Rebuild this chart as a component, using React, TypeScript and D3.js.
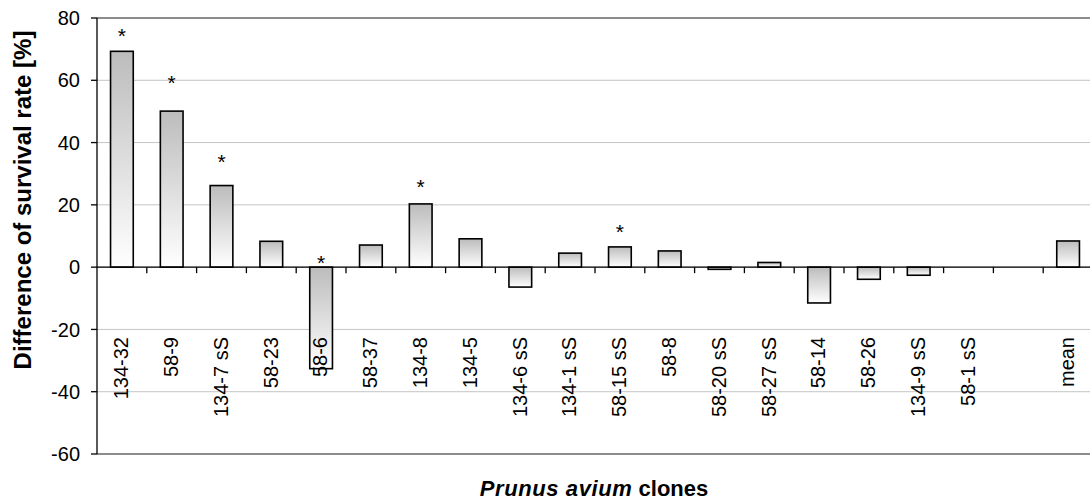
import React from "react";
import * as d3 from "d3";

const categories = [
  "134-32", "58-9", "134-7 sS", "58-23", "58-6", "58-37", "134-8", "134-5",
  "134-6 sS", "134-1 sS", "58-15 sS", "58-8", "58-20 sS", "58-27 sS", "58-14",
  "58-26", "134-9 sS", "58-1 sS", "", "mean",
];
const values = [
  69.3, 50.1, 26.2, 8.3, -32.6, 7.1, 20.3, 9.1,
  -6.4, 4.5, 6.5, 5.2, -0.7, 1.5, -11.5,
  -3.9, -2.6, 0, null, 8.4,
];
// asterisk (significance) marks, drawn at these y-values
const starValues = [
  77, 62, 36.5, null, 4, null, 28.5, null,
  null, null, 14, null, null, null, null,
  null, null, null, null, null,
];
const yTicks = [-60, -40, -20, 0, 20, 40, 60, 80];

const W = 1090;
const H = 502;
const left = 97;
const right = 1093;
const top = 18;
const bottom = 454;
const font = "'Liberation Sans', Arial, sans-serif";

const App = () => {
  const keys = categories.map((c, i) => c || "blank" + i);
  const x = d3.scaleBand().domain(keys).range([left, right]).padding(0);
  const y = d3.scaleLinear().domain([-60, 80]).range([bottom, top]);
  const bw = x.bandwidth() * 0.456;
  const y0 = y(0);

  return (
    <svg width={W} height={H} style={{ position: "absolute", left: 0, top: 0, background: "#fff" }}>
      <defs>
        <linearGradient id="barGrad" x1="0" y1="0" x2="0" y2="1">
          <stop offset="0%" stopColor="#bcbcbc" />
          <stop offset="100%" stopColor="#ffffff" />
        </linearGradient>
      </defs>

      {/* gridlines */}
      {yTicks.map((t) => (
        <line
          key={t}
          x1={left}
          x2={W}
          y1={y(t)}
          y2={y(t)}
          stroke={t === 80 || t === -60 ? "#8c8c8c" : "#c4c4c4"}
          strokeWidth={t === 80 || t === -60 ? 2 : 1}
        />
      ))}

      {/* y axis */}
      <line x1={left} x2={left} y1={top} y2={bottom} stroke="#000" strokeWidth={1.3} />
      {yTicks.map((t) => (
        <g key={"yt" + t}>
          <line x1={left - 6} x2={left} y1={y(t)} y2={y(t)} stroke="#000" strokeWidth={1.3} />
          <text
            x={left - 17}
            y={y(t)}
            dy="0.36em"
            textAnchor="end"
            fontFamily={font}
            fontSize={20}
            fill="#000"
          >
            {t}
          </text>
        </g>
      ))}

      {/* bars */}
      {values.map((v, i) =>
        v === null ? null : (
          <rect
            key={"b" + i}
            x={x(keys[i])! + x.bandwidth() / 2 - bw / 2}
            y={Math.min(y(v), y0)}
            width={bw}
            height={Math.abs(y(v) - y0)}
            fill="url(#barGrad)"
            stroke="#000"
            strokeWidth={1.6}
          />
        )
      )}

      {/* zero line with category ticks */}
      <line x1={left} x2={W} y1={y0} y2={y0} stroke="#000" strokeWidth={1.3} />
      {keys.map((k, i) => (
        <line
          key={"xt" + i}
          x1={x(k)! + x.bandwidth()}
          x2={x(k)! + x.bandwidth()}
          y1={y0}
          y2={y0 + 6}
          stroke="#000"
          strokeWidth={1.3}
        />
      ))}

      {/* significance stars */}
      {starValues.map((s, i) =>
        s === null ? null : (
          <text
            key={"s" + i}
            x={x(keys[i])! + x.bandwidth() / 2}
            y={y(s)}
            dy="0.75em"
            textAnchor="middle"
            fontFamily={font}
            fontSize={21}
            fill="#000"
          >
            *
          </text>
        )
      )}

      {/* category labels */}
      {categories.map((c, i) => {
        const cx = x(keys[i])! + x.bandwidth() / 2 - 1;
        return (
          <text
            key={"c" + i}
            transform={`translate(${cx},${337}) rotate(-90)`}
            dy="0.36em"
            textAnchor="end"
            fontFamily={font}
            fontSize={20}
            fill="#000"
          >
            {c}
          </text>
        );
      })}

      {/* axis titles */}
      <text
        transform={`translate(${22},${200}) rotate(-90)`}
        dy="0.36em"
        textAnchor="middle"
        fontFamily={font}
        fontSize={24}
        fontWeight="bold"
        fill="#000"
      >
        Difference of survival rate [%]
      </text>
      <text
        x={594}
        y={496}
        textAnchor="middle"
        fontFamily={font}
        fontSize={22}
        fontWeight="bold"
        fill="#000"
      >
        <tspan fontStyle="italic" letterSpacing={0.6}>Prunus avium</tspan>
        <tspan> clones</tspan>
      </text>
    </svg>
  );
};

export default App;
